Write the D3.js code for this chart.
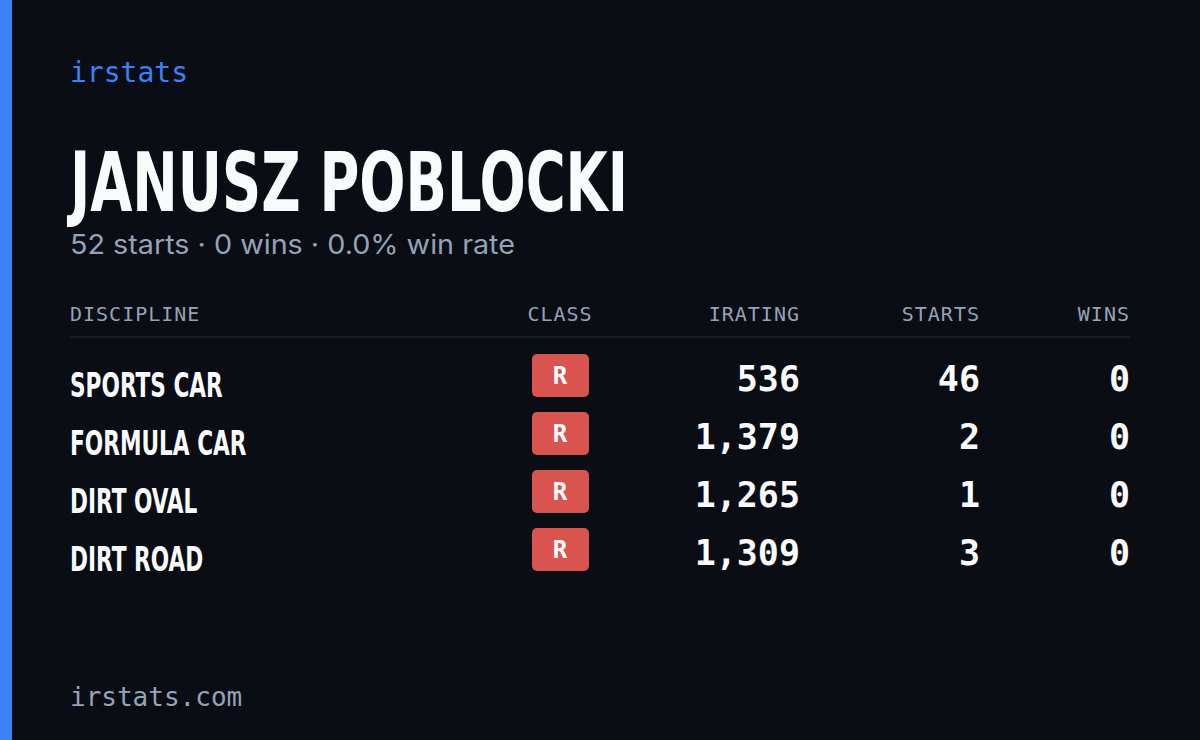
<!DOCTYPE html>
<html><head><meta charset="utf-8">
<script src="https://cdn.jsdelivr.net/npm/d3@7"></script>
<style>html,body{margin:0;padding:0;background:#0a0d14;}</style>
</head><body>
<svg id="c" width="1200" height="740"></svg>
<script>
const brand = "irstats";
const footer = "irstats.com";
const driverName = "JANUSZ POBLOCKI";
const subtitle = "52 starts · 0 wins · 0.0% win rate";
const headers = ["DISCIPLINE","CLASS","IRATING","STARTS","WINS"];
const disciplines = ["SPORTS CAR","FORMULA CAR","DIRT OVAL","DIRT ROAD"];
const classes = ["R","R","R","R"];
const iratings = [536,1379,1265,1309];
const starts = [46,2,1,3];
const wins = [0,0,0,0];

const svg = d3.select("#c");
const mono = "'DejaVu Sans Mono', monospace";
const cond = "'DejaVu Sans Condensed','DejaVu Sans',sans-serif";
svg.append("rect").attr("width",1200).attr("height",740).attr("fill","#0a0d14");
svg.append("rect").attr("width",12).attr("height",740).attr("fill","#3b82f6");
svg.append("text").attr("x",70).attr("y",82).text(brand).attr("fill","#3b82f6").attr("font-family",mono).attr("font-size",28);
svg.append("text").attr("x",70).attr("y",211).text(driverName).attr("fill","#f8fafc").attr("font-family",cond).attr("font-weight","bold").attr("font-size",82).attr("textLength",558).attr("lengthAdjust","spacingAndGlyphs");
svg.append("text").attr("x",70).attr("y",254).text(subtitle).attr("fill","#94a3b8").attr("font-family","Inter,sans-serif").attr("font-size",27).attr("textLength",445).attr("lengthAdjust","spacingAndGlyphs");

const colX = [70,560,800,980,1130];
const anchors = ["start","middle","end","end","end"];
svg.selectAll("text.h").data(headers).join("text").attr("class","h")
  .attr("x",(d,i)=>colX[i]).attr("y",321).attr("text-anchor",(d,i)=>anchors[i])
  .text(d=>d).attr("fill","#94a3b8").attr("font-family",mono).attr("font-size",20).attr("letter-spacing",1);
svg.append("line").attr("x1",70).attr("x2",1130).attr("y1",337).attr("y2",337).attr("stroke","#1e2330").attr("stroke-width",1.5);

const y = d3.scaleBand().domain(d3.range(disciplines.length)).range([347,579]);
const g = svg.selectAll("g.r").data(disciplines).join("g").attr("transform",(d,i)=>`translate(0,${y(i)})`);
g.append("text").attr("transform","translate(70,50) scale(0.73,1)").text(d=>d).attr("fill","#f8fafc").attr("font-family",cond).attr("font-weight","bold").attr("font-size",33);
g.append("rect").attr("x",532).attr("y",7).attr("width",57).attr("height",43).attr("rx",5).attr("fill","#d9534f");
g.append("text").attr("x",560).attr("y",37).attr("text-anchor","middle").text((d,i)=>classes[i]).attr("fill","#fff").attr("font-family",mono).attr("font-weight","bold").attr("font-size",24);
const fmt = d3.format(",");
[[iratings,800],[starts,980],[wins,1130]].forEach(([arr,x])=>{
  g.append("text").attr("x",x).attr("y",44).attr("text-anchor","end").text((d,i)=>fmt(arr[i])).attr("fill","#f8fafc").attr("font-family",mono).attr("font-weight","bold").attr("font-size",35);
});
svg.append("text").attr("x",70).attr("y",706).text(footer).attr("fill","#94a3b8").attr("font-family",mono).attr("font-size",26);
</script>
</body></html>
